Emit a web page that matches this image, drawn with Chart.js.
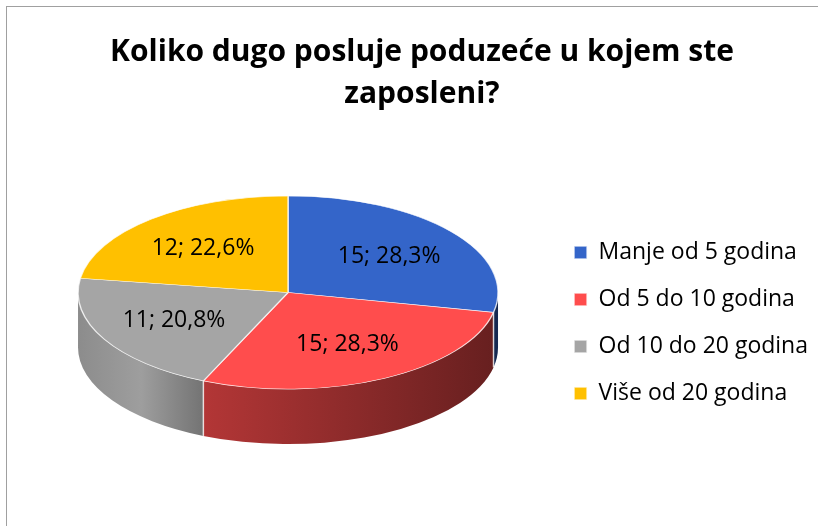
<!DOCTYPE html>
<html>
<head>
<meta charset="utf-8">
<script src="https://cdn.jsdelivr.net/npm/chart.js@4.4.1/dist/chart.umd.min.js"></script>
<style>
  body { margin: 0; background: #fff; }
  #okvir { position: absolute; left: 6px; top: 6px; width: 900px; height: 600px;
           border-top: 1px solid #a0a0a0; border-left: 1px solid #a0a0a0; }
  #grafica { position: absolute; left: 0; top: 0; }
</style>
</head>
<body>
<div id="okvir"></div>
<canvas id="grafica" width="818" height="526"></canvas>
<script>
const naslov = ['Koliko dugo posluje poduzeće u kojem ste', 'zaposleni?'];
const kategorije = ['Manje od 5 godina', 'Od 5 do 10 godina', 'Od 10 do 20 godina', 'Više od 20 godina'];
const odgovori = [15, 15, 11, 12];
const boje = ['#3465c9', '#ff4d4d', '#a5a5a5', '#ffc000'];

/********** izgled 3D pite *******************/
const nagib = 0.46;   // spljoštenost gornje plohe
const dubina = 55;    // visina boka u pikselima

const zatamni = (hex, k) => {
  const n = parseInt(hex.slice(1), 16);
  const r = Math.round(((n >> 16) & 255) * k);
  const g = Math.round(((n >> 8) & 255) * k);
  const b = Math.round((n & 255) * k);
  return `rgb(${r},${g},${b})`;
};

const pita3d = {
  id: 'pita3d',
  beforeDatasetsDraw(chart) {
    const ctx = chart.ctx;
    const arcs = chart.getDatasetMeta(0).data;
    const {x, y, outerRadius: r} = arcs[0];
    const area = chart.chartArea;
    // cijelo tijelo (ploha + bok) centrirano u chartArea
    const cy = (area.top + area.bottom) / 2 - dubina / 2 - 3;
    chart.$pita = {x, cy, r};
    ctx.save();
    ctx.translate(0, cy);
    ctx.scale(1, nagib);
    ctx.translate(0, -y);
    const d = dubina / nagib;
    arcs.forEach((arc, i) => {
      // vidi se samo prednja polovica boka
      const a1 = Math.max(arc.startAngle, 0);
      const a2 = Math.min(arc.endAngle, Math.PI);
      if (a2 <= a1) return;
      const g = ctx.createLinearGradient(x - r, 0, x + r, 0);
      g.addColorStop(0, zatamni(boje[i], 0.85));
      g.addColorStop(0.15, zatamni(boje[i], 0.96));
      g.addColorStop(0.3, zatamni(boje[i], 0.7));
      g.addColorStop(1, zatamni(boje[i], 0.4));
      ctx.beginPath();
      ctx.arc(x, y, r, a1, a2);
      ctx.arc(x, y + d, r, a2, a1, true);
      ctx.closePath();
      ctx.fillStyle = g;
      ctx.fill();
    });
  },
  afterDatasetsDraw(chart) {
    const ctx = chart.ctx;
    ctx.restore();
    const arcs = chart.getDatasetMeta(0).data;
    const {x, cy, r} = chart.$pita;
    // svijetli šavovi na boku
    ctx.save();
    ctx.strokeStyle = 'rgba(255,255,255,0.75)';
    ctx.lineWidth = 1.5;
    arcs.forEach((arc) => {
      const a = arc.endAngle;
      if (a <= 0 || a >= Math.PI) return;
      const px = x + Math.cos(a) * r;
      const py = cy + Math.sin(a) * r * nagib;
      ctx.beginPath();
      ctx.moveTo(px, py);
      ctx.lineTo(px, py + dubina);
      ctx.stroke();
    });
    // oznake podataka
    const suma = odgovori.reduce((a, b) => a + b, 0);
    ctx.fillStyle = '#000';
    ctx.font = "23px 'Open Sans'";
    ctx.textAlign = 'center';
    ctx.textBaseline = 'middle';
    arcs.forEach((arc, i) => {
      const m = (arc.startAngle + arc.endAngle) / 2;
      const lx = x + Math.cos(m) * r * 0.62;
      const ly = cy + Math.sin(m) * r * 0.6 * nagib;
      const tekst = odgovori[i] + '; ' + (odgovori[i] / suma * 100).toFixed(1).replace('.', ',') + '%';
      ctx.fillText(tekst, lx, ly);
    });
    ctx.restore();
  }
};

new Chart(document.getElementById('grafica'), {
  type: 'pie',
  data: {
    labels: kategorije,
    datasets: [{
      data: odgovori,
      backgroundColor: boje,
      borderColor: 'rgba(255,255,255,0.75)',
      borderWidth: 1.5,
      radius: 210
    }]
  },
  options: {
    responsive: false,
    animation: false,
    layout: { padding: { left: 26, right: 0, top: 0, bottom: 8 } },
    plugins: {
      title: {
        display: true,
        text: naslov,
        color: '#000',
        font: { family: "'Open Sans', sans-serif", size: 30, weight: 'bold', lineHeight: 1.4 },
        padding: { top: 31, bottom: 13 }
      },
      legend: {
        position: 'right',
        fullSize: false,
        labels: {
          boxWidth: 13,
          boxHeight: 13,
          padding: 24,
          color: '#000',
          font: { family: "'Open Sans'", size: 23 }
        }
      },
      tooltip: { enabled: false }
    }
  },
  plugins: [pita3d]
});
</script>
</body>
</html>
